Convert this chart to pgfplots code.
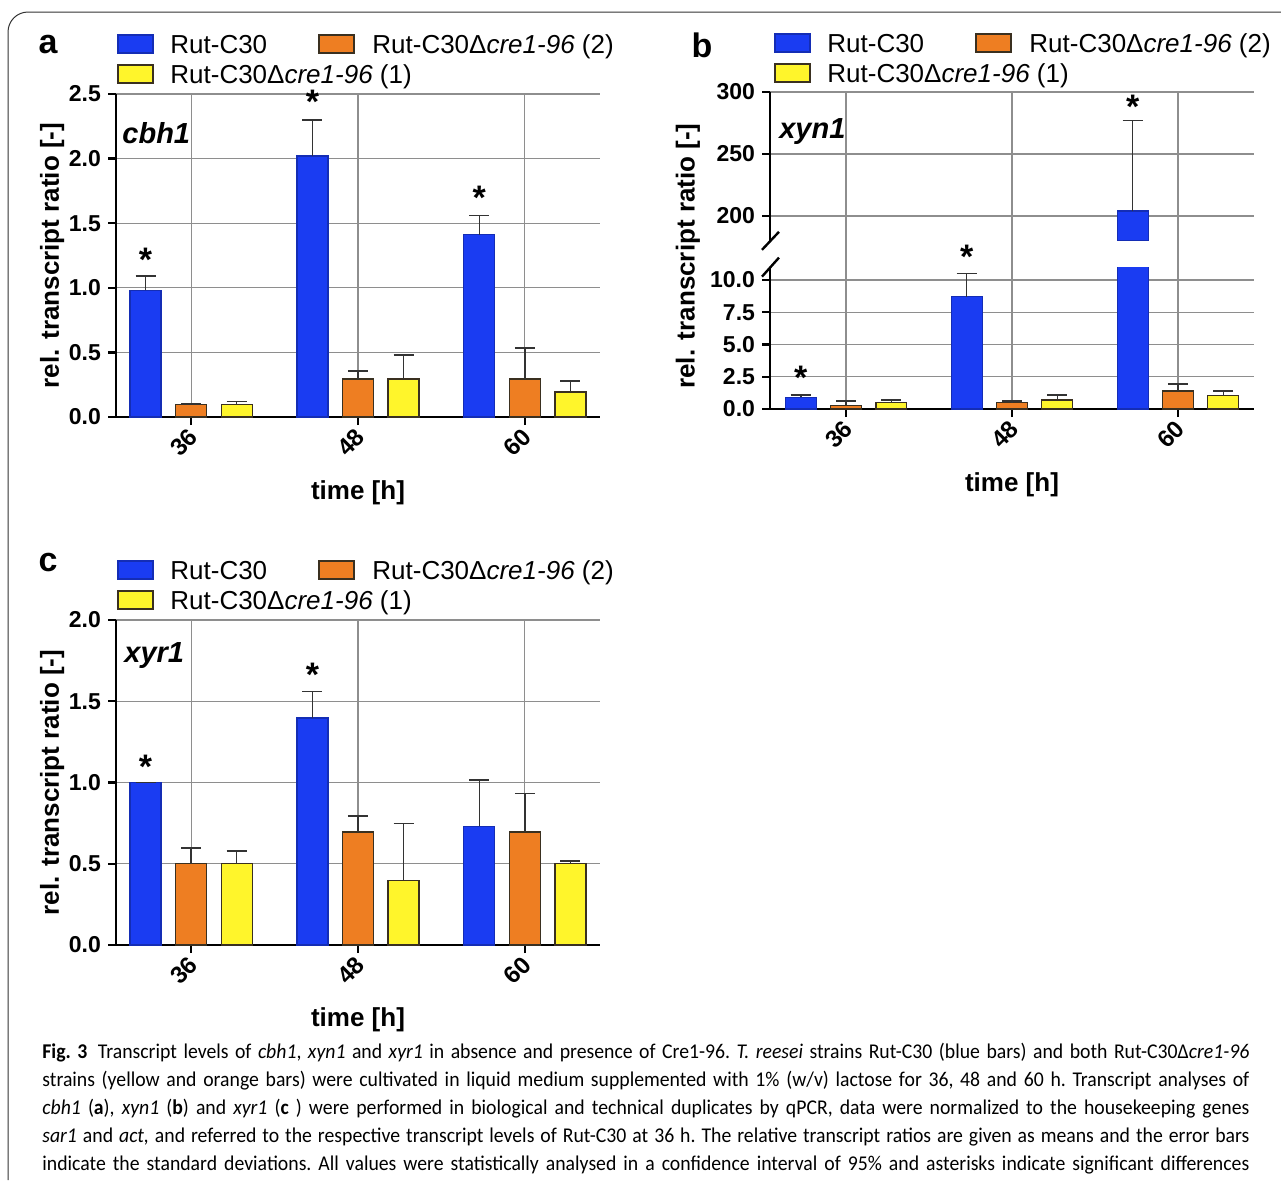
\documentclass[border=0pt]{standalone}
\usepackage{fontspec}
\setmainfont{Liberation Sans}
\newfontfamily\capfont[FakeStretch=0.94]{Carlito}
\usepackage{pgfplots}
\usepackage{pgfplotstable}
\pgfplotsset{compat=1.18}

\definecolor{cblue}{HTML}{1A3CF2}
\definecolor{corange}{HTML}{EE7E22}
\definecolor{cyellow}{HTML}{FFF52B}
\definecolor{cgrid}{HTML}{8E8E8E}
\definecolor{cedge}{HTML}{3A3020}

% panel a (cbh1)
\pgfplotstableread{
g y e
0 0.98 0.11
1 2.02 0.28
2 1.41 0.15
}\aBlue
\pgfplotstableread{
g y e
0 0.095 0.008
1 0.294 0.064
2 0.294 0.240
}\aOrange
\pgfplotstableread{
g y e
0 0.095 0.026
1 0.294 0.188
2 0.193 0.088
}\aYellow
% panel b (xyn1)
\pgfplotstableread{
g y e
0 0.90 0.19
1 8.70 1.80
2 204 73
}\bBlue
\pgfplotstableread{
g y e
0 0.29 0.33
1 0.50 0.10
2 1.40 0.53
}\bOrange
\pgfplotstableread{
g y e
0 0.50 0.18
1 0.70 0.40
2 1.02 0.39
}\bYellow
% panel c (xyr1)
\pgfplotstableread{
g y e
0 1.000 0.000
1 1.397 0.164
2 0.731 0.284
}\cBlue
\pgfplotstableread{
g y e
0 0.500 0.097
1 0.696 0.097
2 0.696 0.237
}\cOrange
\pgfplotstableread{
g y e
0 0.500 0.077
1 0.398 0.350
2 0.500 0.017
}\cYellow

\pgfplotsset{
  panel/.style={
    scale only axis, width=242pt,
    axis x line*=bottom, axis y line*=left,
    axis line style={line width=1.2pt, black},
    xmin=-0.45, xmax=2.45,
    xtick={0,1,2}, xticklabels={36,48,60},
    grid=major, major grid style={cgrid, line width=0.55pt},
    tick align=outside, major tick length=4pt,
    major tick style={line width=1.2pt, black},
    tick label style={font=\bfseries\fontsize{11.5}{13}\selectfont},
    xticklabel style={rotate=45, anchor=east, yshift=-3.5pt, xshift=1.5pt,
      font=\bfseries\fontsize{12}{13}\selectfont},
    label style={font=\bfseries\fontsize{13}{15}\selectfont},
    /pgf/number format/fixed, /pgf/number format/fixed zerofill,
    /pgf/number format/precision=1, /pgf/number format/assume math mode=true,
    clip mode=individual,
  },
  errs/.style={error bars/.cd, y dir=plus, y explicit,
    error bar style={line width=0.8pt, black!80},
    error mark options={rotate=90, mark size=5pt, line width=0.8pt, black!80}},
  barb/.style={ybar, bar width=0.186, bar shift=0pt, line width=0.6pt},
  bl/.style={barb, fill=cblue, draw=cblue!75!black, errs},
  og/.style={barb, fill=corange, draw=cedge, errs},
  yl/.style={barb, fill=cyellow, draw=cedge, errs},
}
\newcommand\aster[2]{\node[inner sep=0pt, font=\bfseries\fontsize{17}{17}\selectfont] at (axis cs:#1,#2) {*};}
\newcommand\legbox[4]{\draw[fill=#3, draw=#4, line width=0.6pt] (#1,#2-4.5pt) rectangle ++(17.5pt,9pt);}
\newcommand\legtext[3]{\node[anchor=base west, inner sep=0pt, font=\fontsize{13}{15}\selectfont] at (#1,#2-4.65pt) {#3};}
\newcommand\mylegend[3]{% x of swatch (pt), y row 1 (pt), y row 2 (pt)
  \legbox{#1}{#2}{cblue}{cblue!75!black}
  \legtext{#1+26pt}{#2}{Rut-C30}
  \legbox{#1+100.5pt}{#2}{corange}{cedge}
  \legtext{#1+127pt}{#2}{Rut-C30Δ\textit{cre1-96} (2)}
  \legbox{#1}{#3}{cyellow}{cedge}
  \legtext{#1+26pt}{#3}{Rut-C30Δ\textit{cre1-96} (1)}
}
\newcommand\capline[2]{\node[anchor=base west, inner sep=0pt] at (21pt,#1) {\capfont\fontsize{10.5}{12}\selectfont\frenchspacing\makebox[603.5pt][s]{#2}};}

\begin{document}
\begin{tikzpicture}
\path[use as bounding box] (0,0) rectangle (640.5pt,-590pt);
\draw[line width=0.5pt, black!80, rounded corners=10pt] (4pt,-590pt) -- (4pt,-6pt) -- (640.5pt,-6pt);

% ---------- a ----------
\node[font=\bfseries\fontsize{17}{17}\selectfont] at (24pt,-22.5pt) {a};
\mylegend{59pt}{-22pt}{-37pt}
\begin{axis}[panel, at={(58pt,-208.5pt)}, anchor=south west, height=161.5pt,
  ymin=0, ymax=2.5, ytick={0,0.5,...,2.5},
  xlabel={time [h]}, ylabel={rel. transcript ratio [-]},
  xlabel style={at={(axis description cs:0.5,-0.235)}, anchor=center},
  ylabel style={at={(axis description cs:-0.132,0.5)}, anchor=center}]
\addplot[bl] table[x expr=\thisrow{g}-0.273, y=y, y error=e] {\aBlue};
\addplot[og] table[x=g, y=y, y error=e] {\aOrange};
\addplot[yl] table[x expr=\thisrow{g}+0.273, y=y, y error=e] {\aYellow};
\node[anchor=west, inner sep=0pt, font=\bfseries\itshape\fontsize{14.5}{15}\selectfont] at (axis cs:-0.414,2.2) {cbh1};
\aster{-0.273}{1.22}\aster{0.727}{2.44}\aster{1.727}{1.70}
\end{axis}

% ---------- b ----------
\node[font=\bfseries\fontsize{17}{17}\selectfont] at (351pt,-22.5pt) {b};
\mylegend{387.5pt}{-21.5pt}{-36.5pt}
\node[rotate=90, font=\bfseries\fontsize{13}{15}\selectfont] at (344pt,-128pt) {rel. transcript ratio [-]};
\begin{axis}[panel, at={(385pt,-120.4pt)}, anchor=south west, height=74.4pt,
  xmin=-0.458, xmax=2.458, axis x line=none, xmajorgrids=false,
  ymin=180, ymax=300, ytick={200,250,300}, /pgf/number format/precision=0]
\addplot[skip coords between index={0}{2}, bl] table[x expr=\thisrow{g}-0.273, y=y, y error=e] {\bBlue};
\draw[cgrid, line width=0.55pt] (axis cs:0,159) -- (axis cs:0,300);
\draw[cgrid, line width=0.55pt] (axis cs:1,159) -- (axis cs:1,300);
\draw[cgrid, line width=0.55pt] (axis cs:2,159) -- (axis cs:2,300);
\draw[line width=1.2pt] (rel axis cs:0,0) ++(-4pt,-4.5pt) -- ++(8.5pt,9pt);
\node[anchor=west, inner sep=0pt, font=\bfseries\itshape\fontsize{14.5}{15}\selectfont] at (axis cs:-0.404,268) {xyn1};
\aster{1.727}{288}
\end{axis}
\begin{axis}[panel, at={(385pt,-204.5pt)}, anchor=south west, height=70.95pt,
  xmin=-0.458, xmax=2.458, xmajorgrids=false,
  ymin=0, ymax=11, ytick={0,2.5,...,10},
  xlabel={time [h]},
  xlabel style={at={(axis description cs:0.5,-0.536)}, anchor=center}]
\draw[cgrid, line width=0.55pt] (axis cs:0,0) -- (axis cs:0,11);
\draw[cgrid, line width=0.55pt] (axis cs:1,0) -- (axis cs:1,11);
\draw[cgrid, line width=0.55pt] (axis cs:2,0) -- (axis cs:2,11);
\addplot[bl] table[x expr=\thisrow{g}-0.273, y=y, y error=e] {\bBlue};
\addplot[og] table[x=g, y=y, y error=e] {\bOrange};
\addplot[yl] table[x expr=\thisrow{g}+0.273, y=y, y error=e] {\bYellow};
\draw[line width=1.2pt] (rel axis cs:0,1) ++(-4pt,-4.75pt) -- ++(8.5pt,9.5pt);
\aster{-0.273}{2.4}\aster{0.727}{11.8}
\end{axis}

% ---------- c ----------
\node[font=\bfseries\fontsize{17}{17}\selectfont] at (24pt,-281.5pt) {c};
\mylegend{59pt}{-285pt}{-300pt}
\begin{axis}[panel, at={(58pt,-472.5pt)}, anchor=south west, height=162.5pt,
  ymin=0, ymax=2, ytick={0,0.5,...,2},
  xlabel={time [h]}, ylabel={rel. transcript ratio [-]},
  xlabel style={at={(axis description cs:0.5,-0.231)}, anchor=center},
  ylabel style={at={(axis description cs:-0.132,0.5)}, anchor=center}]
\addplot[bl] table[x expr=\thisrow{g}-0.273, y=y, y error=e] {\cBlue};
\addplot[og] table[x=g, y=y, y error=e] {\cOrange};
\addplot[yl] table[x expr=\thisrow{g}+0.273, y=y, y error=e] {\cYellow};
\node[anchor=west, inner sep=0pt, font=\bfseries\itshape\fontsize{14.5}{15}\selectfont] at (axis cs:-0.402,1.78) {xyr1};
\aster{-0.273}{1.095}\aster{0.727}{1.66}
\end{axis}

% ---------- caption ----------
\capline{-529pt}{\textbf{Fig. 3}\enspace Transcript levels of \textit{cbh1}, \textit{xyn1} and \textit{xyr1} in absence and presence of Cre1-96. \textit{T. reesei} strains Rut-C30 (blue bars) and both Rut-C30Δ\textit{cre1-96}}
\capline{-543pt}{strains (yellow and orange bars) were cultivated in liquid medium supplemented with 1\% (w/v) lactose for 36, 48 and 60 h. Transcript analyses of}
\capline{-557pt}{\textit{cbh1} (\textbf{a}), \textit{xyn1} (\textbf{b}) and \textit{xyr1} (\textbf{c} ) were performed in biological and technical duplicates by qPCR, data were normalized to the housekeeping genes}
\capline{-571pt}{\textit{sar1} and \textit{act,} and referred to the respective transcript levels of Rut-C30 at 36 h. The relative transcript ratios are given as means and the error bars}
\capline{-585pt}{indicate the standard deviations. All values were statistically analysed in a confidence interval of 95\% and asterisks indicate significant differences}
\end{tikzpicture}
\end{document}
